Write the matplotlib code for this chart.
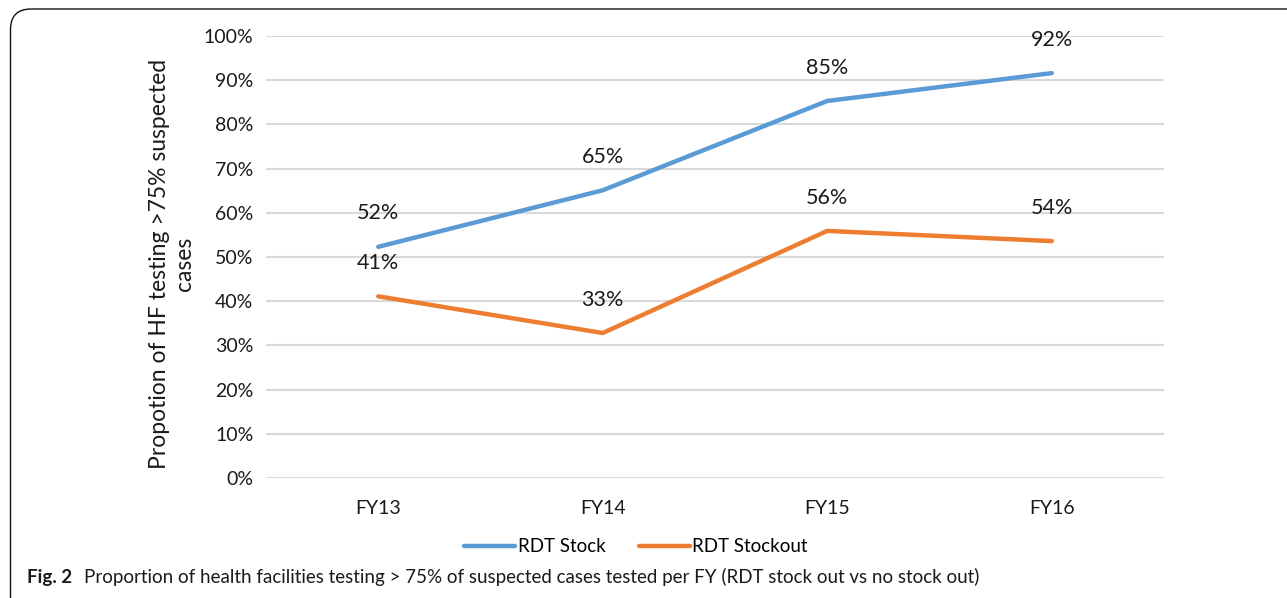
import matplotlib.pyplot as plt
from matplotlib.patches import FancyBboxPatch

years = ['FY13', 'FY14', 'FY15', 'FY16']
rdt_stock = [52.3, 65.1, 85.3, 91.6]
rdt_stockout = [41.1, 32.8, 55.9, 53.6]
stock_labels = ['52%', '65%', '85%', '92%']
stockout_labels = ['41%', '33%', '56%', '54%']

blue = '#5B9BD5'
orange = '#ED7D31'
txt = '#1a1a1a'

plt.rcParams['font.family'] = ['Lato', 'DejaVu Sans']

fig = plt.figure(figsize=(12.87, 5.98), dpi=100)
ax = fig.add_axes([0.2067, 0.2007, 0.6977, 0.7391])

x = range(len(years))
ax.plot(x, rdt_stock, color=blue, lw=3.2, solid_capstyle='round', label='RDT Stock')
ax.plot(x, rdt_stockout, color=orange, lw=3.2, solid_capstyle='round', label='RDT Stockout')

for i, (v, t) in enumerate(zip(rdt_stock, stock_labels)):
    ax.annotate(t, (i, v), xytext=(0, 24), textcoords='offset points',
                ha='center', va='center', fontsize=15.5, color=txt)
for i, (v, t) in enumerate(zip(rdt_stockout, stockout_labels)):
    ax.annotate(t, (i, v), xytext=(0, 24), textcoords='offset points',
                ha='center', va='center', fontsize=15.5, color=txt)

ax.set_xlim(-0.5, 3.5)
ax.set_ylim(0, 100)
ax.set_yticks(range(0, 101, 10))
ax.set_yticklabels([f'{v}%' for v in range(0, 101, 10)])
ax.set_xticks(list(x))
ax.set_xticklabels(years)
ax.tick_params(axis='both', length=0, labelsize=14, colors=txt)
ax.tick_params(axis='y', pad=9)
ax.tick_params(axis='x', pad=16)
ax.grid(axis='y', color='#d9d9d9', lw=1.5)
ax.set_axisbelow(True)
for s in ax.spines.values():
    s.set_visible(False)

fig.text(172 / 1287, 1 - 264 / 598, 'Propotion of HF testing >75% suspected\ncases',
         rotation=90, ha='center', va='center', fontsize=16.5, color=txt,
         linespacing=1.25)

fig.legend(loc='center', bbox_to_anchor=(636 / 1287, 1 - 547 / 598), ncol=2,
           frameon=False, fontsize=13.5, handlelength=2.7, handletextpad=0.15,
           columnspacing=1.8)

fig.text(27 / 1287, 1 - 577 / 598, 'Fig. 2', fontweight='bold', fontsize=13.5,
         ha='left', va='center', color=txt)
fig.text(84 / 1287, 1 - 577 / 598,
         'Proportion of health facilities testing > 75% of suspected cases tested per FY (RDT stock out vs no stock out)',
         fontsize=13.5, ha='left', va='center', color=txt)

border = FancyBboxPatch((10.5 / 1287, -0.2), 1.2, 1 - 9 / 598 + 0.2,
                        boxstyle='round,pad=0,rounding_size=0.016',
                        transform=fig.transFigure, fill=False,
                        ec='#111111', lw=1.0, mutation_aspect=1287 / 598)
fig.patches.append(border)

fig.savefig('out.png', dpi=100)
